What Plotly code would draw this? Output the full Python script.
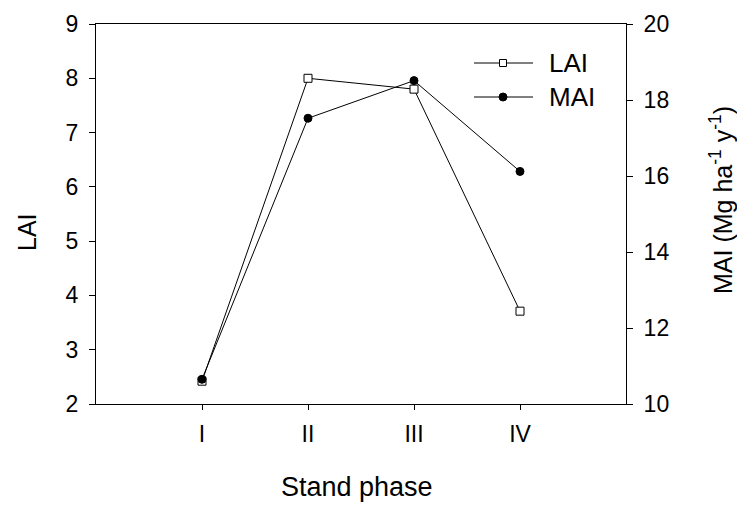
import plotly.graph_objects as go

phases = ["I", "II", "III", "IV"]
lai = [2.42, 8.0, 7.8, 3.71]
mai = [10.65, 17.52, 18.51, 16.12]
lai_ticks = [2, 3, 4, 5, 6, 7, 8, 9]
mai_ticks = [10, 12, 14, 16, 18, 20]

FONT = "Liberation Sans, Arial, sans-serif"
FS = 23
TS = 25
W, H = 737, 506
L, R, T, B = 96, 111, 24, 102
pw, ph = W - L - R, H - T - B

def px_x(x):
    return (x - L) / pw

def px_y(y):
    return (H - B - y) / ph

fig = go.Figure()
fig.add_trace(go.Scatter(
    x=phases, y=lai, name="LAI", mode="lines+markers",
    line=dict(color="black", width=1),
    marker=dict(symbol="square", size=8, color="white",
                line=dict(color="black", width=1)),
    yaxis="y", showlegend=False))
fig.add_trace(go.Scatter(
    x=phases, y=mai, name="MAI", mode="lines+markers",
    line=dict(color="black", width=1),
    marker=dict(symbol="circle", size=8, color="black",
                line=dict(color="black", width=1)),
    yaxis="y2", showlegend=False))

def axis_common(ticklen=6):
    return dict(showline=True, linecolor="black", linewidth=1,
                ticks="outside", ticklen=ticklen, tickcolor="black",
                showgrid=False, zeroline=False,
                tickfont=dict(family=FONT, size=FS, color="black"))

fig.update_layout(
    width=W, height=H,
    margin=dict(l=L, r=R, t=T, b=B),
    paper_bgcolor="white", plot_bgcolor="white",
    font=dict(family=FONT, size=FS, color="black"),
    xaxis=dict(**axis_common(5), type="category", range=[-1, 4], mirror=True,
               ticklabelstandoff=4),
    yaxis=dict(**axis_common(6), range=[2, 9], tickvals=lai_ticks,
               ticklabelstandoff=6),
    yaxis2=dict(**axis_common(6), range=[10, 20], tickvals=mai_ticks,
                overlaying="y", side="right", ticklabelstandoff=6),
)

shapes = []
annotations = []

# axis titles
annotations.append(dict(text="Stand phase", xref="paper", yref="paper",
                        x=px_x(357), y=px_y(487), xanchor="center", yanchor="middle",
                        showarrow=False, font=dict(family=FONT, size=27, color="black")))
annotations.append(dict(text="LAI", xref="paper", yref="paper", textangle=-90,
                        x=px_x(27), y=px_y(232), xanchor="center", yanchor="middle",
                        showarrow=False, font=dict(family=FONT, size=TS, color="black")))
annotations.append(dict(text="MAI (Mg ha<sup>-1</sup> y<sup>-1</sup>)", xref="paper",
                        yref="paper", textangle=-90,
                        x=px_x(721), y=px_y(200), xanchor="center", yanchor="middle",
                        showarrow=False, font=dict(family=FONT, size=TS, color="black")))

# manual legend
legend_rows = [("LAI", 63, "square"), ("MAI", 97, "circle")]
for label, ypx, sym in legend_rows:
    shapes.append(dict(type="line", xref="paper", yref="paper",
                       x0=px_x(474), x1=px_x(533), y0=px_y(ypx), y1=px_y(ypx),
                       line=dict(color="black", width=1)))
    cx = 503
    if sym == "square":
        shapes.append(dict(type="rect", xref="paper", yref="paper",
                           x0=px_x(cx - 3.5), x1=px_x(cx + 3.5),
                           y0=px_y(ypx + 3.5), y1=px_y(ypx - 3.5),
                           fillcolor="white", line=dict(color="black", width=1)))
    else:
        shapes.append(dict(type="circle", xref="paper", yref="paper",
                           x0=px_x(cx - 4), x1=px_x(cx + 4),
                           y0=px_y(ypx + 4), y1=px_y(ypx - 4),
                           fillcolor="black", line=dict(color="black", width=1)))
    annotations.append(dict(text=label, xref="paper", yref="paper",
                            x=px_x(547), y=px_y(ypx), xanchor="left",
                            yanchor="middle", showarrow=False,
                            font=dict(family=FONT, size=26, color="black")))
fig.update_layout(shapes=shapes, annotations=annotations)

fig.write_html("out.html")
